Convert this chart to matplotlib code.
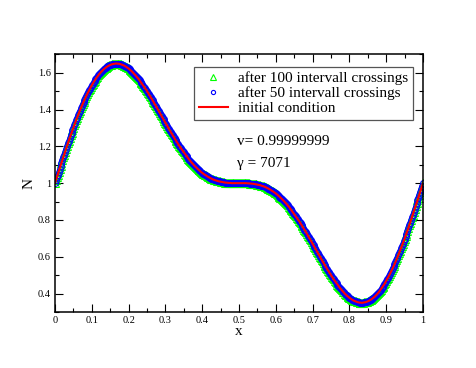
import numpy as np
import matplotlib
matplotlib.use('Agg')
import matplotlib.pyplot as plt
from matplotlib.lines import Line2D
from matplotlib.ticker import MultipleLocator

plt.rcParams['font.family'] = ['Liberation Serif', 'DejaVu Serif']

n_vals = [
    1.000, 1.016, 1.031, 1.047, 1.063, 1.078, 1.094, 1.109, 1.125, 1.140,
    1.155, 1.171, 1.186, 1.201, 1.216, 1.230, 1.245, 1.259, 1.274, 1.288,
    1.302, 1.315, 1.329, 1.342, 1.355, 1.368, 1.381, 1.393, 1.406, 1.418,
    1.429, 1.441, 1.452, 1.463, 1.474, 1.484, 1.494, 1.504, 1.514, 1.523,
    1.532, 1.540, 1.549, 1.557, 1.564, 1.572, 1.579, 1.585, 1.592, 1.598,
    1.604, 1.609, 1.614, 1.619, 1.623, 1.627, 1.631, 1.634, 1.637, 1.640,
    1.642, 1.644, 1.646, 1.647, 1.648, 1.649, 1.650, 1.650, 1.649, 1.649,
    1.648, 1.647, 1.645, 1.643, 1.641, 1.639, 1.636, 1.633, 1.630, 1.626,
    1.623, 1.618, 1.614, 1.610, 1.605, 1.600, 1.594, 1.589, 1.583, 1.577,
    1.571, 1.565, 1.558, 1.552, 1.545, 1.538, 1.530, 1.523, 1.516, 1.508,
    1.500, 1.492, 1.484, 1.476, 1.468, 1.459, 1.451, 1.442, 1.434, 1.425,
    1.417, 1.408, 1.399, 1.390, 1.382, 1.373, 1.364, 1.355, 1.346, 1.337,
    1.329, 1.320, 1.311, 1.302, 1.294, 1.285, 1.277, 1.268, 1.260, 1.252,
    1.243, 1.235, 1.227, 1.219, 1.211, 1.204, 1.196, 1.189, 1.181, 1.174,
    1.167, 1.160, 1.153, 1.146, 1.140, 1.133, 1.127, 1.121, 1.115, 1.109,
    1.104, 1.098, 1.093, 1.088, 1.083, 1.078, 1.073, 1.069, 1.064, 1.060,
    1.056, 1.052, 1.049, 1.045, 1.042, 1.039, 1.035, 1.033, 1.030, 1.027,
    1.025, 1.022, 1.020, 1.018, 1.016, 1.015, 1.013, 1.011, 1.010, 1.009,
    1.008, 1.007, 1.006, 1.005, 1.004, 1.003, 1.003, 1.002, 1.002, 1.001,
    1.001, 1.001, 1.000, 1.000, 1.000, 1.000, 1.000, 1.000, 1.000, 1.000,
    1.000, 1.000, 1.000, 1.000, 1.000, 1.000, 1.000, 1.000, 1.000, 0.999,
    0.999, 0.999, 0.998, 0.998, 0.997, 0.997, 0.996, 0.995, 0.994, 0.993,
    0.992, 0.991, 0.990, 0.989, 0.987, 0.985, 0.984, 0.982, 0.980, 0.978,
    0.975, 0.973, 0.970, 0.967, 0.965, 0.961, 0.958, 0.955, 0.951, 0.948,
    0.944, 0.940, 0.936, 0.931, 0.927, 0.922, 0.917, 0.912, 0.907, 0.902,
    0.896, 0.891, 0.885, 0.879, 0.873, 0.867, 0.860, 0.854, 0.847, 0.840,
    0.833, 0.826, 0.819, 0.811, 0.804, 0.796, 0.789, 0.781, 0.773, 0.765,
    0.757, 0.748, 0.740, 0.732, 0.723, 0.715, 0.706, 0.698, 0.689, 0.680,
    0.671, 0.663, 0.654, 0.645, 0.636, 0.627, 0.618, 0.610, 0.601, 0.592,
    0.583, 0.575, 0.566, 0.558, 0.549, 0.541, 0.532, 0.524, 0.516, 0.508,
    0.500, 0.492, 0.484, 0.477, 0.470, 0.462, 0.455, 0.448, 0.442, 0.435,
    0.429, 0.423, 0.417, 0.411, 0.406, 0.400, 0.395, 0.390, 0.386, 0.382,
    0.377, 0.374, 0.370, 0.367, 0.364, 0.361, 0.359, 0.357, 0.355, 0.353,
    0.352, 0.351, 0.351, 0.350, 0.350, 0.351, 0.352, 0.353, 0.354, 0.356,
    0.358, 0.360, 0.363, 0.366, 0.369, 0.373, 0.377, 0.381, 0.386, 0.391,
    0.396, 0.402, 0.408, 0.415, 0.421, 0.428, 0.436, 0.443, 0.451, 0.460,
    0.468, 0.477, 0.486, 0.496, 0.506, 0.516, 0.526, 0.537, 0.548, 0.559,
    0.571, 0.582, 0.594, 0.607, 0.619, 0.632, 0.645, 0.658, 0.671, 0.685,
    0.698, 0.712, 0.726, 0.741, 0.755, 0.770, 0.784, 0.799, 0.814, 0.829,
    0.845, 0.860, 0.875, 0.891, 0.906, 0.922, 0.937, 0.953, 0.969, 0.984,
    1.000,
]
x_vals = np.linspace(0.0, 1.0, len(n_vals))

labels = ['after 100 intervall crossings', 'after 50 intervall crossings',
          'initial condition']
x_ticks = [0, 0.1, 0.2, 0.3, 0.4, 0.5, 0.6, 0.7, 0.8, 0.9, 1.0]
x_ticklabels = ['0', '0.1', '0.2', '0.3', '0.4', '0.5', '0.6', '0.7', '0.8', '0.9', '1']
y_ticks = [0.4, 0.6, 0.8, 1.0, 1.2, 1.4, 1.6]
y_ticklabels = ['0.4', '0.6', '0.8', '1', '1.2', '1.4', '1.6']
v_text = 'v= 0.99999999'
gamma_text = 'γ = 7071'

fig = plt.figure(figsize=(4.77, 3.68), dpi=100)
ax = fig.add_axes([0.1153, 0.1522, 0.7715, 0.7002])

ax.plot(x_vals, n_vals, linestyle='none', marker='^', markersize=5.5,
        markerfacecolor='none', markeredgecolor='#00ff00', markeredgewidth=0.75)
ax.plot(x_vals, n_vals, linestyle='none', marker='o', markersize=4.2,
        markerfacecolor='none', markeredgecolor='#0000ff', markeredgewidth=0.75)
ax.plot(x_vals, n_vals, color='#ff0000', linewidth=1.5)

ax.set_xlim(0, 1)
ax.set_ylim(0.3, 1.7)
ax.xaxis.set_minor_locator(MultipleLocator(0.05))
ax.yaxis.set_minor_locator(MultipleLocator(0.1))
ax.set_xticks(x_ticks)
ax.set_xticklabels(x_ticklabels)
ax.set_yticks(y_ticks)
ax.set_yticklabels(y_ticklabels)
ax.tick_params(which='both', direction='in', top=True, right=True,
               labelsize=7.5, width=0.8, pad=3)
ax.tick_params(which='major', length=5.5)
ax.tick_params(which='minor', length=2.7)
for spine in ax.spines.values():
    spine.set_linewidth(1.1)

ax.set_xlabel('x', fontsize=11, labelpad=0)
ax.set_ylabel('N', fontsize=11, labelpad=2)

handles = [
    Line2D([0], [0], linestyle='none', marker='^', markersize=4.5,
           markerfacecolor='none', markeredgecolor='#00ff00', markeredgewidth=0.8),
    Line2D([0], [0], linestyle='none', marker='o', markersize=3,
           markerfacecolor='none', markeredgecolor='#0000ff', markeredgewidth=0.8),
    Line2D([0], [0], color='#ff0000', linewidth=1.5),
]
leg = ax.legend(handles, labels, loc='upper left', bbox_to_anchor=(0.3777, 0.951),
                borderaxespad=0, fontsize=11, frameon=True, fancybox=False,
                framealpha=1, edgecolor='#555555', handlelength=1.9,
                handletextpad=0.7, borderpad=0.3, labelspacing=0.07)
leg.get_frame().set_linewidth(0.9)

ax.text(0.4946, 0.662, v_text, transform=ax.transAxes, fontsize=11, va='center')
ax.text(0.4946, 0.577, gamma_text, transform=ax.transAxes, fontsize=11, va='center')

fig.savefig('out.png', dpi=100)
